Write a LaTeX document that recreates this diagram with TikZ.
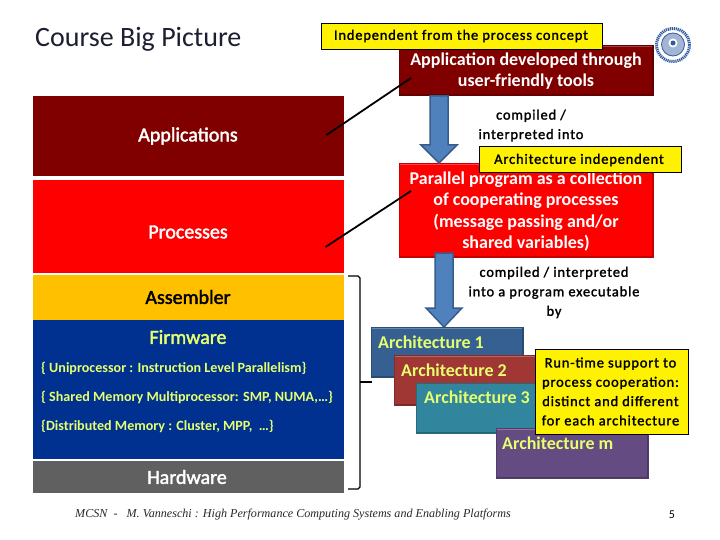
\documentclass[tikz,border=0pt]{standalone}
\usepackage{fontspec}
\setmainfont{Carlito}
\newfontfamily\spaced[LetterSpace=6,FakeBold=1.6]{Carlito}
\newfontfamily\medium[FakeBold=2]{Carlito}
\newfontfamily\footfont{Liberation Serif}
\definecolor{appred}{RGB}{128,0,0}
\definecolor{procred}{RGB}{255,0,0}
\definecolor{asmgold}{RGB}{255,192,0}
\definecolor{fwblue}{RGB}{0,48,144}
\definecolor{hwgray}{RGB}{96,96,96}
\definecolor{paleyel}{RGB}{230,255,110}
\definecolor{arrowblue}{RGB}{79,129,189}
\definecolor{arrowedge}{RGB}{56,93,138}
\definecolor{logoblue}{RGB}{50,90,160}
\definecolor{archa}{RGB}{55,96,146}
\definecolor{archb}{RGB}{160,55,52}
\definecolor{archc}{RGB}{49,133,156}
\definecolor{archd}{RGB}{100,76,130}
\definecolor{titleink}{RGB}{30,30,50}
\definecolor{footink}{RGB}{40,40,40}
\tikzset{
  x=1pt,y=-1pt,
  layer/.style={fill=#1,draw=none,rectangle,minimum width=311pt,inner sep=0pt,anchor=north west},
  layerlabel/.style={font=\medium\fontsize{20}{22}\selectfont,text=#1},
  fwlabel/.style={font=\bfseries\fontsize{14.1}{16}\selectfont,text=paleyel,anchor=west,inner sep=0pt},
  bevel/.style={path picture={
      \draw[#1!75!white,line width=2.5pt] (path picture bounding box.north west) -- (path picture bounding box.north east);
      \draw[#1!75!black,line width=3pt] (path picture bounding box.south west) -- (path picture bounding box.south east) -- (path picture bounding box.north east);}},
  shadedbox/.style={rectangle,anchor=north west,inner sep=0pt,fill=#1,draw=#1!80!black,line width=1pt,minimum width=254pt,bevel=#1},
  boxtext/.style={font=\bfseries\fontsize{18}{21.6}\selectfont,align=center,text=white,inner sep=0pt},
  note/.style={rectangle,fill=yellow,draw=black,line width=0.8pt,anchor=north west,inner sep=0pt},
  notetext/.style={font=\spaced\fontsize{14.4}{19.3}\selectfont,align=center,text=black,inner sep=0pt},
  plain/.style={font=\spaced\fontsize{14.4}{19.5}\selectfont,align=center,text=black,inner sep=0pt},
  archbox/.style={rectangle,anchor=north west,inner sep=0pt,fill=#1,draw=#1!80!black,line width=1pt,minimum width=152pt,minimum height=50pt,bevel=#1},
  archtext/.style={font=\bfseries\fontsize{18}{20}\selectfont,text=paleyel,anchor=west,inner sep=0pt},
  blockarrow/.style={fill=arrowblue,draw=arrowedge,line width=1.5pt},
  pointer/.style={draw=black,line width=1.8pt},
}
\begin{document}
\begin{tikzpicture}
\useasboundingbox (0,0) rectangle (720,540);
\fill[white] (0,0) rectangle (720,540);
% title
\node[font=\fontsize{28}{32}\selectfont,text=titleink,anchor=west,inner sep=0pt] (title) at (35,39) {Course Big Picture};
% layers
\node[layer=appred,minimum height=80pt] (apps) at (33,96) {};
\node[layer=procred,minimum height=93pt] (procs) at (33,180) {};
\node[layer=asmgold,minimum height=45pt] (asm) at (33,275) {};
\node[layer=fwblue,minimum height=139pt] (fw) at (33,320) {};
\node[layer=hwgray,minimum height=32pt] (hw) at (33,461) {};
\node[layerlabel=white] (appsl) at (188,136) {Applications};
\node[layerlabel=white] (procsl) at (188,232) {Processes};
\node[layerlabel=black] (asml) at (188,297) {Assembler};
\node[layerlabel=paleyel] (fwl) at (188,337) {Firmware};
\node[layerlabel=white] (hwl) at (187,477) {Hardware};
\node[fwlabel] (fw1) at (41,368) {\{ Uniprocessor : Instruction Level Parallelism\}};
\node[fwlabel] (fw2) at (41,397) {\{ Shared Memory Multiprocessor: SMP, NUMA,…\}};
\node[fwlabel] (fw3) at (41,426) {\{Distributed Memory : Cluster, MPP, \ …\}};
% brace
\coordinate (bt) at (348,276);
\coordinate (bb) at (348,489);
\coordinate (btip) at (372,382);
\draw[line width=1.3pt,line join=round] (bt) -- (358,276) -- (360,278) -- (360,487) -- (358,489) -- (bb);
\draw[line width=1.6pt] (360,382) -- (btip);
% right boxes
\node[shadedbox=appred,minimum height=50pt] (app) at (399,45.5) {};
\node[shadedbox=procred,minimum height=93pt] (par) at (399,163.5) {};
\node[boxtext] (appt) at (526,71) {Application developed through\\user-friendly tools};
\node[boxtext] (part) at (526,211.5) {Parallel program as a collection\\of cooperating processes\\(message passing and/or\\shared variables)};
% arrows
\coordinate (a1e) at (439,163);
\coordinate (a2e) at (444,327);
\draw[blockarrow] (430,96) -- (448,96) -- (448,145) -- (457,145) -- (a1e) -- (421,145) -- (430,145) -- cycle;
\draw[blockarrow] (435,253) -- (453,253) -- (453,308) -- (462,308) -- (a2e) -- (426,308) -- (435,308) -- cycle;
% pointer lines
\coordinate (p1s) at (326.5,135);
\coordinate (p1e) at (411,78);
\coordinate (p2s) at (325.5,247);
\coordinate (p2e) at (411,191);
\draw[pointer] (p1s) -- (p1e);
\draw[pointer] (p2s) -- (p2e);
% plain labels
\node[plain] (c1) at (531,125.5) {compiled /\\interpreted into};
\node[plain] (c2) at (554,292.5) {compiled / interpreted\\into a program executable\\by};
% notes
\node[note,minimum width=281pt,minimum height=26pt] (n1) at (320.5,23) {};
\node[notetext] (n1t) at (461,36) {Independent from the process concept};
\node[note,minimum width=202pt,minimum height=26pt] (n2) at (478.5,146.5) {};
\node[notetext] (n2t) at (579,160) {Architecture independent};
% architectures
\node[archbox=archa] (a1) at (371,327) {};
\node[archtext] (a1t) at (378,342) {Architecture 1};
\node[archbox=archb] (a2) at (393.5,355) {};
\node[archtext] (a2t) at (401,370) {Architecture 2};
\node[archbox=archc] (a3) at (416,382.5) {};
\node[archtext] (a3t) at (424,397) {Architecture 3};
\node[archbox=archd] (am) at (495.5,428) {};
\node[archtext] (amt) at (502,443) {Architecture m};
\node[note,minimum width=153pt,minimum height=85pt] (n3) at (534.5,348.5) {};
\node[notetext] (n3t) at (610.5,391.5) {Run-time support to\\process cooperation:\\distinct and different\\for each architecture};
% logo
\node[circle,draw=logoblue,dash pattern=on 1.2pt off 0.8pt,line width=3pt,minimum size=33pt,inner sep=0pt] (logo) at (673,45) {};
\node[circle,draw=logoblue,line width=0.8pt,fill=logoblue!45!white,minimum size=23pt,inner sep=0pt] (logoin) at (673,44.5) {};
\node[circle,fill=white,minimum size=9pt,inner sep=0pt] (logoc) at (673,43) {};
\node[circle,fill=logoblue,minimum size=5pt,inner sep=0pt] (logod) at (673,43) {};
% footer
\node[font=\footfont\itshape\fontsize{12.1}{14}\selectfont,anchor=west,inner sep=0pt,text=footink] (foot) at (75,515) {MCSN \ - \ \ M. Vanneschi : High Performance Computing Systems and Enabling Platforms};
\node[font=\fontsize{12}{14}\selectfont,inner sep=0pt] (page) at (672,515) {5};
\end{tikzpicture}
\end{document}
